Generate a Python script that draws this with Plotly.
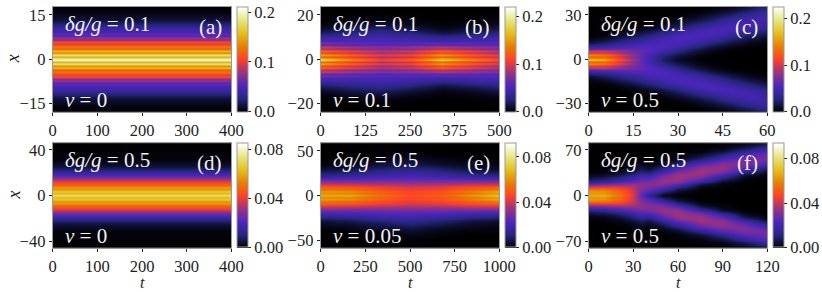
import plotly.graph_objects as go

W, H = 822, 292
FONT = "Liberation Serif"

CMAP = [[0, "#000000"], [0.125, "#262680"], [0.25, "#4d26bf"], [0.375, "#993380"],
        [0.5, "#ff4026"], [0.625, "#e68000"], [0.75, "#e6bf1a"], [0.875, "#e6e680"], [1, "#ffffff"]]

# panel (a)
a_t = [0, 400]
a_x = [0, .73, 1.46, 2.19, 2.92, 3.65, 4.38, 5.11, 5.84, 6.57, 7.3, 8.03, 8.76, 9.49, 10.22, 10.95,
       11.68, 12.41, 13.14, 13.87, 14.6, 15.33, 16.06, 16.79, 17.52, 18.25]
a_profile = [.21, .15, .185, .135, .16, .115, .13, .10, .11, .072, .078, .055, .058, .046, .042,
             .034, .026, .02, .014, .01, .007, .005, .003, .002, .001, .001]
a_z = [[v, v] for v in a_profile]

# panel (b)
b_t = [0, 85, 170, 255, 340, 420, 500]
b_x = [0, .95, 1.9, 2.85, 3.8, 4.75, 5.7, 6.65, 7.6, 8.55, 9.5, 10.45, 11.4, 12.35, 13.3, 14.25,
       15.2, 16.15, 17.1, 18.05, 19, 19.95, 20.9, 21.85, 24]
b_z = [
    [.190, .150, .115, .130, .180, .150, .120],
    [.125, .105, .085, .095, .125, .105, .090],
    [.160, .130, .105, .115, .155, .125, .105],
    [.110, .095, .080, .088, .110, .095, .080],
    [.130, .110, .092, .100, .128, .108, .092],
    [.085, .075, .068, .072, .085, .075, .068],
    [.100, .088, .078, .082, .092, .084, .078],
    [.062, .058, .055, .056, .060, .057, .055],
    [.072, .065, .060, .060, .060, .060, .060],
    [.050, .052, .050, .048, .044, .047, .050],
    [.045, .047, .048, .044, .036, .042, .047],
    [.032, .038, .042, .036, .026, .032, .038],
    [.026, .033, .038, .030, .018, .025, .032],
    [.018, .026, .032, .024, .012, .018, .026],
    [.012, .021, .027, .018, .008, .013, .020],
    [.008, .016, .021, .013, .005, .009, .015],
    [.005, .012, .016, .009, .003, .006, .011],
    [.003, .008, .012, .006, .002, .004, .008],
    [.002, .005, .008, .004, .001, .003, .005],
    [.001, .003, .005, .002, .001, .002, .003],
    [.001, .002, .003, .001, 0, .001, .002],
    [0, .001, .002, .001, 0, .001, .001],
    [0, .001, .001, 0, 0, 0, .001],
    [0, 0, .001, 0, 0, 0, 0],
    [0, 0, 0, 0, 0, 0, 0],
]

# panel (c)
c_t = [0, 5, 10, 15, 20, 25, 30, 36, 42, 48, 54, 60]
c_x = [0, 1.4, 2.8, 4.2, 5.6, 7, 8.4, 9.8, 11.2, 13, 15, 17, 19, 21, 23, 25, 27, 29, 31, 33, 35, 37]
c_z = [
    [.175, .165, .125, .085, .050, .022, .008, .002, 0, 0, 0, 0],
    [.125, .125, .100, .075, .048, .026, .012, .004, .001, 0, 0, 0],
    [.150, .140, .110, .080, .052, .032, .017, .006, .001, 0, 0, 0],
    [.100, .100, .085, .070, .055, .040, .023, .010, .002, .001, 0, 0],
    [.100, .100, .085, .072, .060, .047, .031, .014, .005, .001, 0, 0],
    [.055, .062, .064, .062, .058, .051, .037, .020, .008, .002, .001, 0],
    [.040, .045, .052, .056, .058, .055, .044, .029, .013, .005, .002, .001],
    [.025, .033, .042, .049, .054, .056, .049, .036, .020, .010, .004, .001],
    [.014, .022, .032, .041, .048, .054, .053, .042, .028, .014, .006, .002],
    [.006, .012, .022, .032, .042, .050, .055, .049, .037, .023, .012, .006],
    [.002, .005, .013, .022, .033, .043, .052, .054, .046, .032, .019, .011],
    [.001, .002, .006, .013, .023, .034, .046, .054, .052, .041, .029, .017],
    [0, .001, .002, .007, .014, .025, .037, .049, .054, .048, .037, .025],
    [0, 0, .001, .003, .008, .015, .027, .041, .052, .052, .043, .032],
    [0, 0, 0, .001, .003, .009, .018, .031, .044, .052, .048, .038],
    [0, 0, 0, 0, .001, .005, .011, .022, .035, .047, .049, .042],
    [0, 0, 0, 0, .001, .002, .006, .013, .025, .040, .048, .046],
    [0, 0, 0, 0, 0, .001, .002, .007, .017, .030, .042, .047],
    [0, 0, 0, 0, 0, 0, .001, .004, .010, .020, .034, .043],
    [0, 0, 0, 0, 0, 0, 0, .001, .005, .013, .024, .037],
    [0, 0, 0, 0, 0, 0, 0, 0, .002, .007, .016, .030],
    [0, 0, 0, 0, 0, 0, 0, 0, .001, .004, .010, .022],
]

# panel (d)
d_t = [0, 400]
d_x = [0, 1.75, 3.5, 5.25, 7, 8.75, 10.5, 12.25, 14, 15.75, 17.5, 19.25, 21, 22.75, 24.5, 26.25,
       28, 29.75, 31.5, 34, 46]
d_profile = [.073, .062, .067, .056, .058, .049, .045, .040, .032, .027, .021, .017, .012, .009,
             .006, .004, .003, .002, .001, .001, 0]
d_z = [[v, v] for v in d_profile]

# panel (e)
e_t = [0, 165, 330, 500, 670, 835, 1000]
e_x = [0, 2.2, 4.4, 6.6, 8.8, 11, 13.2, 15.4, 17.6, 19.8, 22, 25, 28, 31, 34, 37, 40, 44, 48, 60]
e_z = [
    [.066, .066, .056, .049, .052, .062, .071],
    [.059, .058, .051, .046, .048, .055, .062],
    [.063, .061, .053, .047, .050, .058, .066],
    [.054, .052, .047, .043, .045, .050, .055],
    [.053, .051, .046, .042, .044, .049, .053],
    [.045, .043, .040, .038, .039, .042, .044],
    [.037, .036, .035, .034, .034, .036, .037],
    [.031, .030, .030, .030, .030, .030, .030],
    [.025, .025, .026, .027, .026, .025, .024],
    [.020, .021, .023, .024, .022, .020, .019],
    [.015, .017, .020, .021, .019, .016, .014],
    [.010, .012, .016, .018, .015, .011, .009],
    [.006, .008, .012, .014, .011, .007, .005],
    [.003, .005, .008, .011, .008, .004, .003],
    [.002, .003, .006, .008, .005, .003, .002],
    [.001, .002, .004, .006, .003, .002, .001],
    [0, .001, .002, .004, .002, .001, .001],
    [0, 0, .001, .002, .001, 0, 0],
    [0, 0, .001, .001, 0, 0, 0],
    [0, 0, 0, 0, 0, 0, 0],
]

# panel (f)
f_t = [0, 10, 20, 25, 30, 35, 40, 50, 60, 75, 90, 105, 120]
f_x = [0, 3, 6, 9, 12, 15, 18, 21, 24, 28, 32, 36, 40, 44, 48, 52, 56, 60, 64, 68, 72, 76, 80, 84]
f_z = [
    [.068, .068, .058, .052, .042, .028, .014, .003, .001, 0, 0, 0, 0],
    [.062, .062, .054, .049, .040, .028, .018, .007, .002, 0, 0, 0, 0],
    [.064, .063, .054, .049, .041, .030, .024, .012, .004, 0, 0, 0, 0],
    [.056, .056, .050, .046, .039, .031, .028, .019, .007, .001, 0, 0, 0],
    [.046, .047, .045, .042, .038, .032, .030, .025, .013, .002, .001, 0, 0],
    [.033, .035, .037, .037, .036, .033, .032, .030, .020, .004, .001, 0, 0],
    [.023, .026, .029, .031, .032, .033, .032, .033, .027, .009, .002, 0, 0],
    [.015, .018, .023, .026, .028, .030, .030, .034, .032, .015, .003, 0, 0],
    [.010, .012, .017, .020, .024, .027, .028, .034, .035, .022, .007, .001, 0],
    [.005, .007, .011, .014, .018, .022, .022, .031, .036, .030, .014, .002, 0],
    [.002, .003, .006, .009, .012, .017, .016, .027, .035, .035, .023, .006, .001],
    [.001, .001, .003, .005, .008, .012, .010, .020, .031, .036, .030, .013, .003],
    [0, .001, .002, .003, .005, .008, .005, .014, .025, .035, .034, .021, .007],
    [0, 0, .001, .001, .003, .005, .003, .008, .018, .031, .034, .027, .014],
    [0, 0, 0, .001, .001, .003, .001, .004, .011, .025, .032, .031, .021],
    [0, 0, 0, 0, .001, .001, .001, .002, .006, .018, .028, .031, .027],
    [0, 0, 0, 0, 0, .001, 0, .001, .003, .011, .022, .029, .029],
    [0, 0, 0, 0, 0, 0, 0, .001, .001, .006, .015, .026, .029],
    [0, 0, 0, 0, 0, 0, 0, 0, .001, .003, .009, .020, .027],
    [0, 0, 0, 0, 0, 0, 0, 0, 0, .001, .005, .014, .023],
    [0, 0, 0, 0, 0, 0, 0, 0, 0, .001, .002, .008, .017],
    [0, 0, 0, 0, 0, 0, 0, 0, 0, 0, .001, .005, .012],
    [0, 0, 0, 0, 0, 0, 0, 0, 0, 0, .001, .002, .007],
    [0, 0, 0, 0, 0, 0, 0, 0, 0, 0, 0, .001, .003],
]

t_ticks = [[0, 100, 200, 300, 400], [0, 125, 250, 375, 500], [0, 15, 30, 45, 60],
           [0, 100, 200, 300, 400], [0, 250, 500, 750, 1000], [0, 30, 60, 90, 120]]
x_ticks = [[-15, 0, 15], [-20, 0, 20], [-30, 0, 30], [-40, 0, 40], [-50, 0, 50], [-70, 0, 70]]
x_limits = [17.8, 23.7, 35.6, 45.7, 58.4, 80]
t_limits = [400, 500, 60, 400, 1000, 120]
z_max = [.211, .221, .225, .0849, .0918, .0935]
cb_ticks = [[0, .1, .2], [0, .1, .2], [0, .1, .2], [0, .04, .08], [0, .04, .08], [0, .04, .08]]
cb_text = [["0.0", "0.1", "0.2"]] * 3 + [["0.00", "0.04", "0.08"]] * 3
coupling = ["0.1", "0.1", "0.1", "0.5", "0.5", "0.5"]
speed = ["0", "0.1", "0.5", "0", "0.05", "0.5"]
letters = ["(a)", "(b)", "(c)", "(d)", "(e)", "(f)"]

panels = [(a_t, a_x, a_z), (b_t, b_x, b_z), (c_t, c_x, c_z), (d_t, d_x, d_z), (e_t, e_x, e_z), (f_t, f_x, f_z)]

lefts = [52.7, 320.7, 588.7]
PW = 178.6
tops = [6.7, 143.3]
PH = [105, 104.4]
FRAME = "#9a9a9a"
TEXT = "#222222"
LABEL = "#f2f2f2"
TICK_SIZE = 16.5

fig = go.Figure()
annotations = []

for i, (t, x, z) in enumerate(panels):
    col, row = i % 3, i // 3
    L, T, H_ = lefts[col], tops[row], PH[row]
    y_full = [-v for v in reversed(x[1:])] + list(x)
    z_full = [list(r) for r in reversed(z[1:])] + [list(r) for r in z]
    suffix = "" if i == 0 else str(i + 1)
    fig.add_trace(go.Heatmap(
        x=t, y=y_full, z=z_full, zmin=0, zmax=z_max[i], colorscale=CMAP, zsmooth="best",
        xaxis="x" + suffix, yaxis="y" + suffix, hoverinfo="skip",
        colorbar=dict(
            x=(L + PW + 5.8) / W, xanchor="left", xpad=0, ypad=0,
            y=1 - (T + H_ / 2) / H, yanchor="middle", len=H_ / H, lenmode="fraction",
            thickness=10.5, thicknessmode="pixels", outlinecolor=FRAME, outlinewidth=1,
            tickvals=cb_ticks[i], ticktext=cb_text[i], ticks="outside", ticklen=3,
            tickcolor=TEXT, tickwidth=1, tickfont=dict(family=FONT, size=TICK_SIZE, color=TEXT),
        ),
    ))
    common = dict(showgrid=False, zeroline=False, showline=True, linecolor=FRAME, linewidth=1, mirror=True,
                  ticks="outside", ticklen=3, tickcolor=TEXT, tickwidth=1,
                  tickfont=dict(family=FONT, size=TICK_SIZE, color=TEXT))
    xaxis = dict(domain=[L / W, (L + PW) / W], range=[0, t_limits[i]], tickvals=t_ticks[i],
                 ticktext=[str(v) for v in t_ticks[i]], anchor="y" + suffix, **common)
    yaxis = dict(domain=[1 - (T + H_) / H, 1 - T / H], range=[-x_limits[i], x_limits[i]], tickvals=x_ticks[i],
                 ticktext=[str(v).replace("-", "\u2212") for v in x_ticks[i]], anchor="x" + suffix, **common)
    fig.layout["xaxis" + suffix] = xaxis
    fig.layout["yaxis" + suffix] = yaxis

    def note(text, px, py, anchor="left", size=21):
        annotations.append(dict(text=text, x=px / W, y=1 - py / H, xref="paper", yref="paper", showarrow=False,
                                xanchor=anchor, yanchor="middle",
                                font=dict(family=FONT, size=size, color=LABEL)))

    dy = 0 if row == 0 else -0.7
    note(f"<i>δg/g</i> = {coupling[i]}", L + 10, T + 17 + dy)
    note(f"<i>v</i> = {speed[i]}", L + 10, T + 93)
    note(letters[i], L + 171, T + 20, anchor="right", size=21)

    if col == 0:
        annotations.append(dict(text="<i>x</i>", x=13 / W, y=1 - (T + H_ / 2) / H, xref="paper", yref="paper",
                                showarrow=False, textangle=-90, xanchor="center", yanchor="middle",
                                font=dict(family=FONT, size=18, color=TEXT)))
    if row == 1:
        annotations.append(dict(text="<i>t</i>", x=(L + PW / 2) / W, y=1 - 282 / H, xref="paper", yref="paper",
                                showarrow=False, xanchor="center", yanchor="middle",
                                font=dict(family=FONT, size=16, color=TEXT)))

fig.update_layout(width=W, height=H, margin=dict(l=0, r=0, t=0, b=0, autoexpand=False), paper_bgcolor="white",
                  plot_bgcolor="black", showlegend=False, annotations=annotations)
fig.write_html("out.html", config=dict(displayModeBar=False),
               post_script="document.body.style.margin='0';document.body.style.overflow='hidden';")
